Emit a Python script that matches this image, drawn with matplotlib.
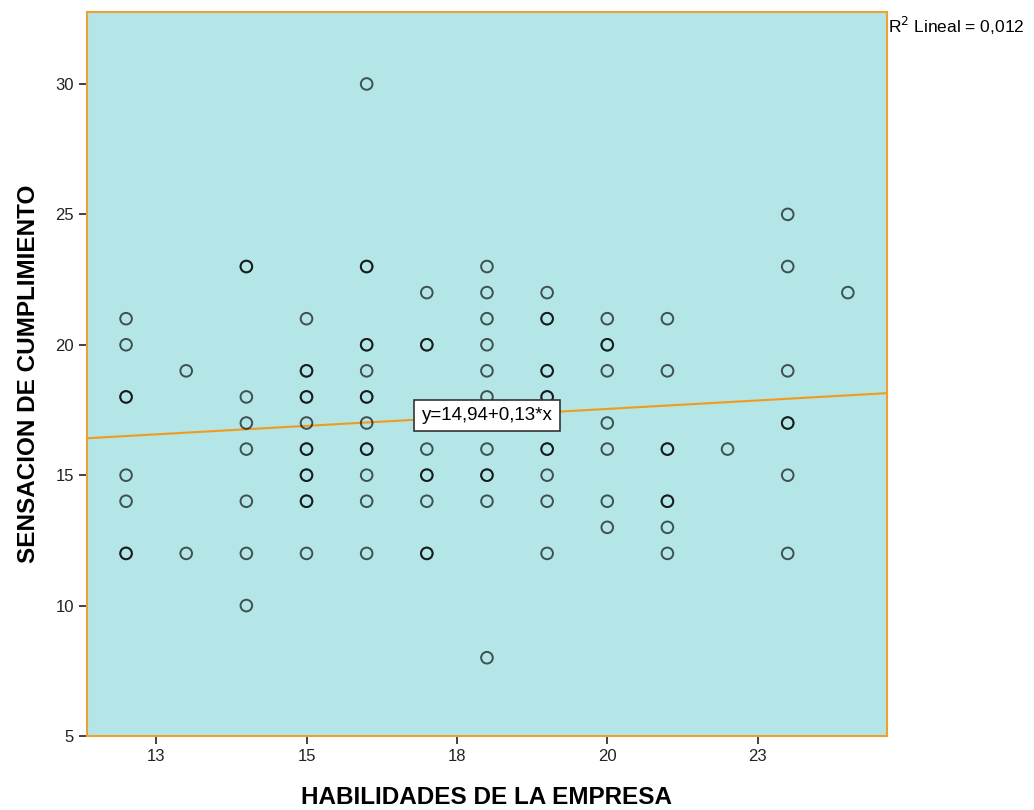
import numpy as np
import matplotlib.pyplot as plt

plt.rcParams['font.family'] = ['Liberation Sans', 'DejaVu Sans']

# puntos (habilidades, sensacion); repetidos = casos duplicados
habilidades = [12, 12, 12, 12, 12, 12, 12, 12,
               13, 13,
               14, 14, 14, 14, 14, 14, 14, 14,
               15, 15, 15, 15, 15, 15, 15, 15, 15, 15, 15, 15, 15,
               16, 16, 16, 16, 16, 16, 16, 16, 16, 16, 16, 16, 16, 16,
               17, 17, 17, 17, 17, 17, 17, 17, 17,
               18, 18, 18, 18, 18, 18, 18, 18, 18, 18, 18,
               19, 19, 19, 19, 19, 19, 19, 19, 19, 19, 19, 19,
               20, 20, 20, 20, 20, 20, 20, 20,
               21, 21, 21, 21, 21, 21, 21, 21,
               22,
               23, 23, 23, 23, 23, 23, 23,
               24]
sensacion = [21, 20, 18, 18, 15, 14, 12, 12,
             19, 12,
             23, 23, 18, 17, 16, 14, 12, 10,
             21, 19, 19, 18, 18, 17, 16, 16, 15, 15, 14, 14, 12,
             30, 23, 23, 20, 20, 19, 18, 18, 17, 16, 16, 15, 14, 12,
             22, 20, 20, 16, 15, 15, 14, 12, 12,
             23, 22, 21, 20, 19, 18, 16, 15, 15, 14, 8,
             22, 21, 21, 19, 19, 18, 18, 16, 16, 15, 14, 12,
             21, 20, 20, 19, 17, 16, 14, 13,
             21, 19, 16, 16, 14, 14, 13, 12,
             16,
             25, 23, 19, 17, 17, 15, 12,
             22]

a, b = 14.94, 0.13
r2 = '0,012'
xticks = [12.5, 15, 17.5, 20, 22.5]
xticklabels = ['13', '15', '18', '20', '23']
yticks = [5, 10, 15, 20, 25, 30]

orange = '#f0a030'

fig = plt.figure(figsize=(10.34, 8.1), dpi=100)
ax = fig.add_axes([0.0841, 0.0914, 0.7737, 0.8938])
ax.set_facecolor('#b4e6e7')

ax.scatter(habilidades, sensacion, s=70, facecolors='none',
           edgecolors='black', linewidths=1.4, alpha=0.65, zorder=3)

xlim = (11.35, 24.65)
xl = np.array(xlim)
ax.plot(xl, a + b * xl, color='#f39a1e', lw=1.5, zorder=2)

xm = 18
ax.text(xm, a + b * xm, 'y=14,94+0,13*x', ha='center', va='center', fontsize=13.5,
        bbox=dict(boxstyle='square,pad=0.38', fc='white', ec='#333333', lw=1.2),
        zorder=4)

ax.set_xlim(xlim)
ax.set_ylim(5, 32.76)
ax.set_xticks(xticks)
ax.set_xticklabels(xticklabels)
ax.set_yticks(yticks)
ax.tick_params(axis='both', labelsize=12, length=6, width=1.2, color='#222222',
               labelcolor='#222222')

for sp in ax.spines.values():
    sp.set_color(orange)
    sp.set_linewidth(1.5)

ax.set_xlabel('HABILIDADES DE LA EMPRESA', fontsize=17.5, fontweight='bold',
              labelpad=16)
ax.set_ylabel('SENSACION DE CUMPLIMIENTO', fontsize=17.5, fontweight='bold',
              labelpad=11)

fig.text(0.859, 0.968, r'R$^2$ Lineal = ' + r2, fontsize=12.5, ha='left', va='center')

fig.savefig('out.png', dpi=100)
